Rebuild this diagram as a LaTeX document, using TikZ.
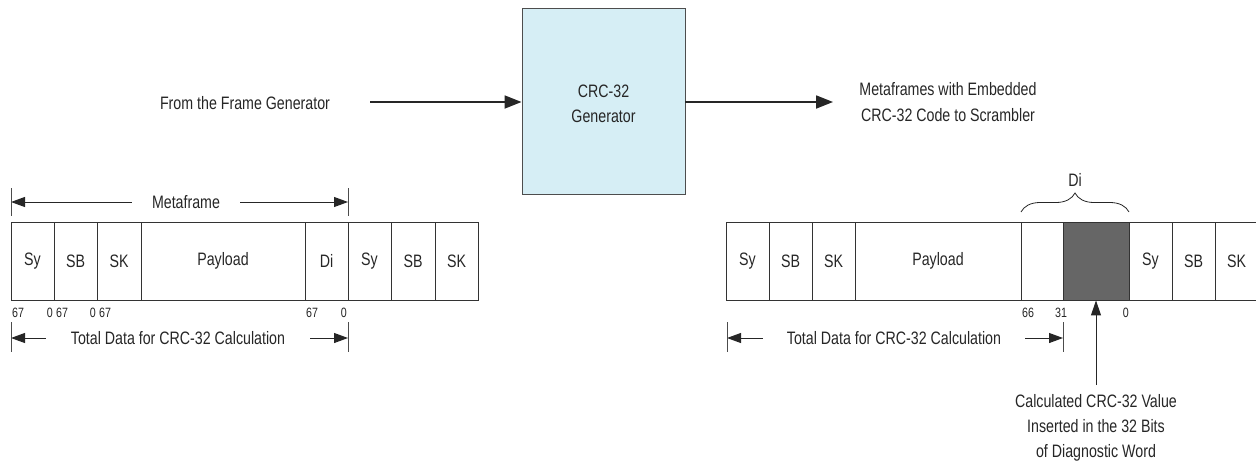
\documentclass[tikz,border=0pt]{standalone}
\usepackage{fontspec}
\setmainfont{Liberation Sans}[FakeStretch=0.79]
\usetikzlibrary{arrows.meta,decorations.pathreplacing}
\definecolor{crcblue}{HTML}{D6EEF5}
\definecolor{crcborder}{HTML}{4D4D4D}
\definecolor{darkcell}{HTML}{666666}
\definecolor{linegray}{HTML}{333333}
\definecolor{txtgray}{HTML}{262626}
\begin{document}
\begin{tikzpicture}[x=1pt,y=-1pt,
  txt/.style={font=\fontsize{18}{26}\selectfont, text=txtgray, align=center, inner sep=0pt},
  cell/.style={draw=linegray, line width=0.9pt, minimum height=78pt, inner sep=0pt, font=\fontsize{18}{20}\selectfont, text=txtgray},
  bit/.style={font=\fontsize{13.5}{15}\selectfont, text=txtgray, inner sep=0pt},
  mainarrow/.style={line width=1.8pt, draw=black!85, -{Triangle[length=17pt,width=13pt]}},
  dimarrow/.style={line width=1pt, draw=black!85, -{Triangle[length=14pt,width=10pt]}},
  tickline/.style={line width=0.8pt, draw=black!70},
  dimlabel/.style={font=\fontsize{18}{20}\selectfont, text=txtgray, inner ysep=0pt, inner xsep=22pt}
]
\useasboundingbox (0,0) rectangle (1256,464);

% CRC generator
\node[draw=crcborder, line width=0.9pt, fill=crcblue, minimum width=163pt, minimum height=186pt,
      inner sep=0pt] (crc) at (603.5,101) {};
\node[txt, font=\fontsize{18}{25}\selectfont] (crclabel) at (603.5,104) {CRC-32\\Generator};
\node[txt] (src) at (245,103) {From the Frame Generator};
\coordinate (srcend) at (370,102);
\coordinate (outend) at (833,102);
\node[txt] (dst) at (948,102) {Metaframes with Embedded\\CRC-32 Code to Scrambler};
\draw[mainarrow] (srcend) -- (crc.west |- srcend);
\draw[mainarrow] (crc.east |- outend) -- (outend);

% ---------- left metaframe ----------
\node[cell, minimum width=43pt]  (L1) at (32.5,261)  {Sy};
\node[cell, minimum width=43pt]  (L2) at (75.5,261)  {SB};
\node[cell, minimum width=44pt]  (L3) at (119,261)   {SK};
\node[cell, minimum width=164pt] (L4) at (223,261)   {Payload};
\node[cell, minimum width=43pt]  (L5) at (326.5,261) {Di};
\node[cell, minimum width=43pt]  (L6) at (369.5,261) {Sy};
\node[cell, minimum width=44pt]  (L7) at (413,261)   {SB};
\node[cell, minimum width=43pt]  (L8) at (456.5,261) {SK};

\node[bit, anchor=west] (b1) at (12,313) {67};
\node[bit, anchor=east] (b2) at (53,313) {0};
\node[bit, anchor=west] (b3) at (56,313) {67};
\node[bit, anchor=east] (b4) at (96,313) {0};
\node[bit, anchor=west] (b5) at (99,313) {67};
\node[bit, anchor=west] (b6) at (306,313) {67};
\node[bit, anchor=east] (b7) at (347,313) {0};

% Metaframe dimension
\coordinate (mfL) at (11,202);
\coordinate (mfR) at (348,202);
\node[dimlabel, inner xsep=20pt] (mf) at (186,202) {Metaframe};
\draw[dimarrow] (mf.west) -- (mfL);
\draw[dimarrow] (mf.east) -- (mfR);
\draw[tickline] (11,188) -- (11,216);
\draw[tickline] (348,188) -- (348,216);

% Total data (left)
\coordinate (tdL) at (11,338);
\coordinate (tdR) at (348,338);
\node[dimlabel, inner xsep=25pt] (td1) at (178,338) {Total Data for CRC-32 Calculation};
\draw[dimarrow] (td1.west) -- (tdL);
\draw[dimarrow] (td1.east) -- (tdR);
\draw[tickline] (11,322) -- (11,352);
\draw[tickline] (348,322) -- (348,352);

% ---------- right metaframe ----------
\node[cell, minimum width=43pt]  (R1) at (747.5,261)  {Sy};
\node[cell, minimum width=43pt]  (R2) at (790.5,261)  {SB};
\node[cell, minimum width=43pt]  (R3) at (833.5,261)  {SK};
\node[cell, minimum width=166pt] (R4) at (938,261)    {Payload};
\node[cell, minimum width=42pt]  (R5) at (1042,261)   {};
\node[cell, minimum width=66pt, fill=darkcell] (R6) at (1096,261) {};
\node[cell, minimum width=43pt]  (R7) at (1150.5,261) {Sy};
\node[cell, minimum width=43pt]  (R8) at (1193.5,261) {SB};
\node[cell, minimum width=43pt]  (R9) at (1236.5,261) {SK};

\node[bit] (c1) at (1028,313) {66};
\node[bit] (c2) at (1061,313) {31};
\node[bit, anchor=east] (c3) at (1129,313) {0};

% Di brace
\draw[line width=0.8pt, draw=black!85, decorate, decoration={brace, amplitude=19pt}] (1021,212) -- (1129,212);
\node[txt] (di) at (1075,180) {Di};

% Total data (right)
\coordinate (tdL2) at (727,338);
\coordinate (tdR2) at (1063,338);
\node[dimlabel, inner xsep=24pt] (td2) at (894,338) {Total Data for CRC-32 Calculation};
\draw[dimarrow] (td2.west) -- (tdL2);
\draw[dimarrow] (td2.east) -- (tdR2);
\draw[tickline] (727,322) -- (727,352);
\draw[tickline] (1063,322) -- (1063,352);

% Calculated CRC note
\node[txt, font=\fontsize{18}{25}\selectfont, anchor=north] (calc) at (1096,394) {Calculated CRC-32 Value\\Inserted in the 32 Bits\\of Diagnostic Word};
\draw[dimarrow, -{Triangle[length=15pt,width=10pt]}] (calc.north) ++(0,-9) -- (R6.south);
\end{tikzpicture}
\end{document}
